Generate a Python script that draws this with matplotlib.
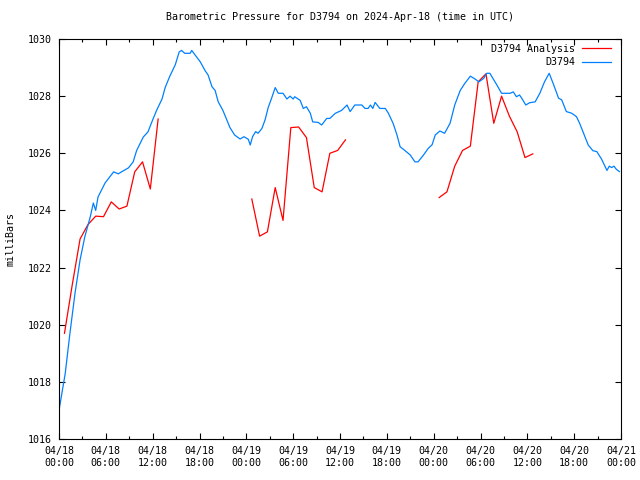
import matplotlib
matplotlib.use("Agg")
import matplotlib.pyplot as plt
from matplotlib.ticker import MultipleLocator

# hours after 2024-04-18 00:00 UTC
obs_hours = [0.0, 0.8, 1.4, 2.05, 2.7, 3.3, 4.0, 4.4, 4.7, 5.0, 5.9, 7.0, 7.6, 8.0,
             8.9, 9.5, 9.95, 10.8, 11.4, 11.9, 12.5, 13.2, 13.6, 14.2, 14.9, 15.4,
             15.7, 16.1, 16.8, 17.0, 17.6, 18.1, 18.7, 19.1, 19.6, 20.0, 20.4, 21.0,
             21.5, 21.9, 22.5, 23.2, 23.7, 24.25, 24.5, 24.8, 25.2, 25.5, 26.0, 26.4,
             26.8, 27.2, 27.7, 28.1, 28.7, 29.2, 29.6, 30.0, 30.2, 30.9, 31.3, 31.7,
             32.2, 32.5, 33.2, 33.65, 34.3, 34.7, 35.4, 36.2, 36.9, 37.3, 37.9, 38.8,
             39.2, 39.6, 39.9, 40.2, 40.5, 41.1, 41.8, 42.2, 42.8, 43.3, 43.7, 44.3,
             45.0, 45.6, 46.0, 46.7, 47.3, 47.8, 48.2, 48.8, 49.4, 50.1, 50.7, 51.4,
             52.0, 52.7, 53.3, 53.8, 54.4, 54.8, 55.2, 56.1, 56.7, 57.8, 58.2, 58.6,
             59.0, 59.3, 59.8, 60.3, 61.0, 61.6, 62.2, 62.8, 63.3, 64.0, 64.4, 65.0,
             65.7, 66.3, 66.7, 67.2, 67.8, 68.4, 68.9, 69.5, 70.2, 70.5, 70.8, 71.1,
             71.4, 71.8]
obs_mb = [1017.0, 1018.3, 1019.7, 1021.1, 1022.27, 1023.07, 1023.77, 1024.26, 1024.0,
          1024.47, 1024.96, 1025.35, 1025.28, 1025.35, 1025.49, 1025.7, 1026.1, 1026.57,
          1026.75, 1027.1, 1027.5, 1027.9, 1028.3, 1028.7, 1029.1, 1029.55, 1029.6,
          1029.5, 1029.5, 1029.6, 1029.38, 1029.2, 1028.9, 1028.74, 1028.33, 1028.2,
          1027.8, 1027.5, 1027.17, 1026.9, 1026.64, 1026.5, 1026.58, 1026.49, 1026.29,
          1026.58, 1026.76, 1026.7, 1026.87, 1027.17, 1027.6, 1027.9, 1028.3, 1028.1,
          1028.1, 1027.9, 1028.0, 1027.9, 1027.98, 1027.85, 1027.57, 1027.63, 1027.4,
          1027.1, 1027.08, 1026.99, 1027.22, 1027.22, 1027.4, 1027.5, 1027.69, 1027.46,
          1027.69, 1027.69, 1027.57, 1027.57, 1027.69, 1027.57, 1027.78, 1027.57,
          1027.57, 1027.4, 1027.05, 1026.64, 1026.23, 1026.1, 1025.94, 1025.7, 1025.7,
          1025.94, 1026.17, 1026.3, 1026.64, 1026.78, 1026.7, 1027.05, 1027.69, 1028.2,
          1028.45, 1028.7, 1028.6, 1028.5, 1028.62, 1028.8, 1028.8, 1028.39, 1028.1,
          1028.1, 1028.15, 1027.98, 1028.04, 1027.92, 1027.69, 1027.77, 1027.8, 1028.1,
          1028.5, 1028.8, 1028.45, 1027.93, 1027.87, 1027.46, 1027.4, 1027.28, 1027.05,
          1026.7, 1026.29, 1026.09, 1026.06, 1025.8, 1025.4, 1025.55, 1025.5, 1025.55,
          1025.44, 1025.36]

# analysis runs (hourly), three separate pieces
ana_hours_1 = [0.7, 1.7, 2.7, 3.7, 4.7, 5.7, 6.7, 7.7, 8.7, 9.7, 10.7, 11.7, 12.7]
ana_mb_1 = [1019.7, 1021.4, 1023.0, 1023.5, 1023.8, 1023.78, 1024.3, 1024.05,
            1024.15, 1025.35, 1025.7, 1024.75, 1027.2]
ana_hours_2 = [24.7, 25.7, 26.7, 27.7, 28.7, 29.7, 30.7, 31.7, 32.7, 33.7, 34.7, 35.7, 36.7]
ana_mb_2 = [1024.4, 1023.1, 1023.25, 1024.8, 1023.65, 1026.9, 1026.92, 1026.55,
            1024.8, 1024.65, 1026.0, 1026.1, 1026.47]
ana_hours_3 = [48.7, 49.7, 50.7, 51.7, 52.7, 53.7, 54.7, 55.7, 56.7, 57.7, 58.7, 59.7, 60.7]
ana_mb_3 = [1024.45, 1024.65, 1025.55, 1026.1, 1026.25, 1028.5, 1028.78, 1027.05,
            1028.0, 1027.3, 1026.75, 1025.85, 1025.98]

tick_labels = ["04/18\n00:00", "04/18\n06:00", "04/18\n12:00", "04/18\n18:00",
               "04/19\n00:00", "04/19\n06:00", "04/19\n12:00", "04/19\n18:00",
               "04/20\n00:00", "04/20\n06:00", "04/20\n12:00", "04/20\n18:00",
               "04/21\n00:00"]

plt.rcParams['font.family'] = 'DejaVu Sans Mono'
plt.rcParams['font.size'] = 7.2

fig = plt.figure(figsize=(6.4, 4.8), dpi=100)
ax = fig.add_axes([59/640, 1 - 439/480, 562/640, 400/480])

red = '#ff0000'
blue = '#0080ff'
ax.plot(ana_hours_1, ana_mb_1, color=red, lw=0.9, label='D3794 Analysis')
ax.plot(ana_hours_2, ana_mb_2, color=red, lw=0.9)
ax.plot(ana_hours_3, ana_mb_3, color=red, lw=0.9)
ax.plot(obs_hours, obs_mb, color=blue, lw=0.9, label='D3794')

ax.set_xlim(0, 72)
ax.set_ylim(1016, 1030)
ax.set_xticks(range(0, 73, 6))
ax.set_xticklabels(tick_labels)
ax.xaxis.set_minor_locator(MultipleLocator(3))
ax.yaxis.set_major_locator(MultipleLocator(2))
ax.tick_params(which='both', direction='in', top=True, right=True, width=0.8)
ax.tick_params(which='major', length=4.5, pad=5)
ax.tick_params(which='minor', length=2.5)
for s in ax.spines.values():
    s.set_linewidth(0.8)

ax.set_ylabel('milliBars', labelpad=9)
ax.set_title('Barometric Pressure for D3794 on 2024-Apr-18 (time in UTC)',
             fontsize=7.2, pad=14)

ax.legend(loc='upper right', bbox_to_anchor=((611 - 59)/562, (439 - 44)/400),
          frameon=False, markerfirst=False, borderaxespad=0, borderpad=0,
          handlelength=2.9, handletextpad=0.7, labelspacing=0.35)

fig.savefig('out.png', dpi=100)
